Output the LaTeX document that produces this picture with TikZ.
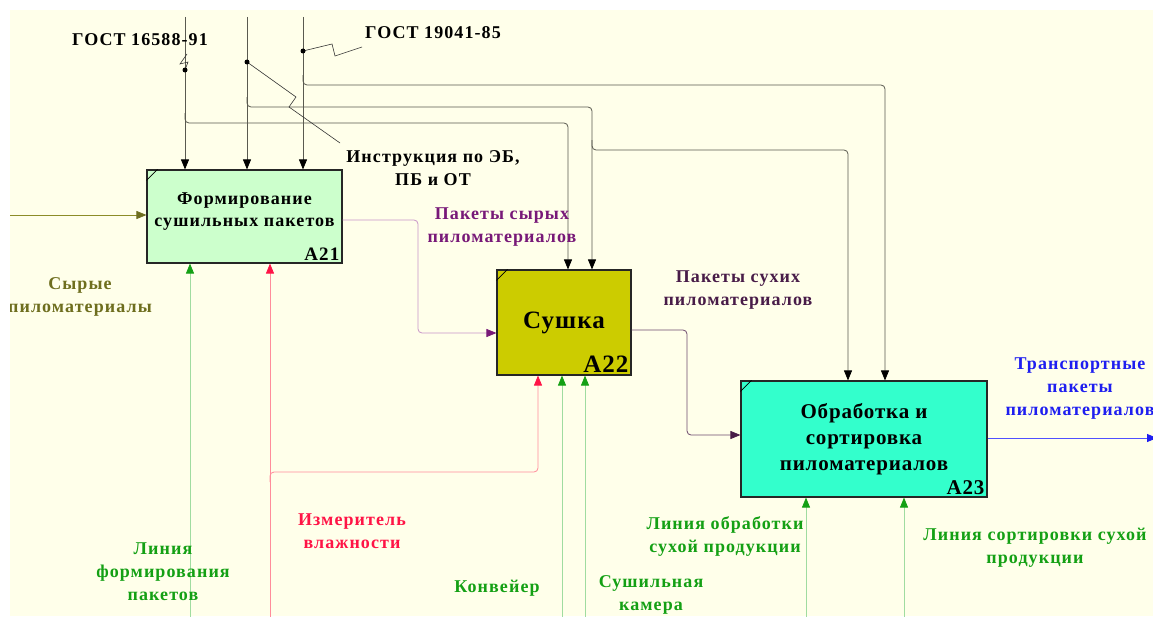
\documentclass[tikz,border=0pt]{standalone}
\usepackage{fontspec}
\setmainfont{Liberation Serif}[LetterSpace=4]
\newfontfamily\lblfont{Liberation Serif}[LetterSpace=6]
\usetikzlibrary{arrows.meta,positioning}

\definecolor{paper}{RGB}{255,255,234}
\definecolor{boxA}{RGB}{204,255,204}
\definecolor{boxB}{RGB}{204,204,0}
\definecolor{boxC}{RGB}{51,255,204}
\definecolor{ctrl}{RGB}{90,90,80}
\definecolor{oliveln}{RGB}{140,140,40}
\definecolor{olivetx}{RGB}{110,110,30}
\definecolor{mauve}{RGB}{200,150,200}
\definecolor{purp}{RGB}{120,25,120}
\definecolor{dpurpln}{RGB}{110,75,110}
\definecolor{dpurp}{RGB}{72,28,72}
\definecolor{blueln}{RGB}{80,80,255}
\definecolor{bluetx}{RGB}{30,30,240}
\definecolor{grnln}{RGB}{160,220,160}
\definecolor{grn}{RGB}{20,160,20}
\definecolor{redln}{RGB}{255,140,155}
\definecolor{redtx}{RGB}{255,20,70}

\tikzset{
  func/.style={draw=black!85,line width=1.1pt,align=center,inner sep=0pt},
  num/.style={anchor=south east,inner sep=3pt,font=\lblfont\bfseries\fontsize{19}{19}\selectfont},
  lbl/.style={align=center,inner sep=0pt,font=\lblfont\bfseries\fontsize{18}{23}\selectfont},
  link/.style={line width=0.8pt,rounded corners=4pt},
  tip/.style={-{Triangle[length=10pt,width=8pt,color=#1]}},
  squig/.style={line width=0.6pt,black!80},
}

\begin{document}
\begin{tikzpicture}[x=1pt,y=-1pt]
\useasboundingbox (0,0) rectangle (1153,618);
\fill[paper] (10,10) rectangle (1153,616);
\begin{scope}
\clip (10,10) rectangle (1153,616);

% activities
\node[func,fill=boxA,minimum width=195pt,minimum height=93pt,
      font=\lblfont\bfseries\fontsize{18}{22}\selectfont] (a21) at (244.5,216.5)
      {Формирование\\сушильных пакетов\\[-8pt]\mbox{}};
\node[num] (a21n) at (a21.south east) {A21};
\node[func,fill=boxB,minimum width=134pt,minimum height=105pt,
      font=\bfseries\fontsize{25}{28}\selectfont] (a22) at (564,322.5) {Сушка};
\node[num,font=\bfseries\fontsize{25}{25}\selectfont] (a22n) at (a22.south east) {A22};
\node[func,fill=boxC,minimum width=246pt,minimum height=116pt,
      font=\bfseries\fontsize{21}{26}\selectfont] (a23) at (864,439)
      {Обработка и\\сортировка\\пиломатериалов};
\node[num,font=\bfseries\fontsize{21}{21}\selectfont] (a23n) at (a23.south east) {A23};
\foreach \b in {a21,a22,a23}
  \draw[line width=0.8pt] ([yshift=-11pt]\b.north west) -- ([xshift=11pt]\b.north west);

% controls from above
\coordinate (g1) at (185,17);
\coordinate (ins) at (247,17);
\coordinate (g2) at (303,17);
\draw[link,ctrl,tip=black] (g1) -- (g1 |- a21.north);
\draw[link,ctrl,tip=black] (ins) -- (ins |- a21.north);
\draw[link,ctrl,tip=black] (g2) -- (g2 |- a21.north);
\draw[link,ctrl,tip=black] (185,113) -- (185,123) -- (568,123) -- (568,0 |- a22.north);
\draw[link,ctrl,tip=black] (247,97) -- (247,107) -- (592,107) -- (592,0 |- a22.north);
\draw[link,ctrl,tip=black] (592,140) -- (592,150) -- (848,150) -- (848,0 |- a23.north);
\draw[link,ctrl,tip=black] (303,75) -- (303,85) -- (885,85) -- (885,0 |- a23.north);

\node[lbl,black] (gost1) at (140,40) {ГОСТ 16588-91};
\node[lbl,black] (gost2) at (433,33) {ГОСТ 19041-85};
\node[lbl,black] (instr) at (433,168) {Инструкция по ЭБ,\\ПБ и ОТ};
\draw[squig] (187,54) -- (180,64) -- (188,62) -- (185,70);
\draw[squig] (303,51) -- (332,44) -- (335,56) -- (362,47);
\draw[squig] (247,62) -- (296,97) -- (289,107) -- (340,143);
\foreach \p in {(185,70),(247,62),(303,51)}
  \fill \p circle (2.5pt);

% input
\coordinate (in) at (0,215);
\draw[link,oliveln,tip=olivetx] (in) -- (in -| a21.west);
\node[lbl,text=olivetx] (raw) at (80,297) {Сырые\\пиломатериалы};

% outputs
\draw[link,mauve,tip=purp] (a21.east |- 0,220) -- (418,220) -- (418,333) -- (a22.west |- 0,333);
\node[lbl,text=purp] (wet) at (502,227) {Пакеты сырых\\пиломатериалов};
\draw[link,dpurpln,tip=dpurp] (a22.east |- 0,330) -- (687,330) -- (687,435) -- (a23.west |- 0,435);
\node[lbl,text=dpurp] (dry) at (738,290) {Пакеты сухих\\пиломатериалов};
\coordinate (out) at (1157,438);
\draw[link,blueln,tip=bluetx] (a23.east |- out) -- (out);
\node[lbl,text=bluetx] (trans) at (1080,389) {Транспортные\\пакеты\\пиломатериалов};

% mechanisms
\coordinate (m1) at (190,618);
\coordinate (meter) at (270,618);
\coordinate (m2) at (562,618);
\coordinate (m3) at (585,618);
\coordinate (m4) at (806,618);
\coordinate (m5) at (904,618);
\draw[link,grnln,tip=grn] (m1) -- (m1 |- a21.south);
\draw[link,redln,tip=redtx] (meter) -- (meter |- a21.south);
\draw[link,redln,tip=redtx] (270,482) -- (270,472) -- (538,472) -- (538,0 |- a22.south);
\draw[link,grnln,tip=grn] (m2) -- (m2 |- a22.south);
\draw[link,grnln,tip=grn] (m3) -- (m3 |- a22.south);
\draw[link,grnln,tip=grn] (m4) -- (m4 |- a23.south);
\draw[link,grnln,tip=grn] (m5) -- (m5 |- a23.south);

\node[lbl,text=grn] (m1l) at (163,572) {Линия\\формирования\\пакетов};
\node[lbl,text=redtx] (meterl) at (352,531) {Измеритель\\влажности};
\node[lbl,text=grn] (m2l) at (497,588) {Конвейер};
\node[lbl,text=grn] (m3l) at (651,595) {Сушильная\\камера};
\node[lbl,text=grn] (m4l) at (725,536) {Линия обработки\\сухой продукции};
\node[lbl,text=grn] (m5l) at (1035,548) {Линия сортировки сухой\\продукции};
\end{scope}
\end{tikzpicture}
\end{document}
